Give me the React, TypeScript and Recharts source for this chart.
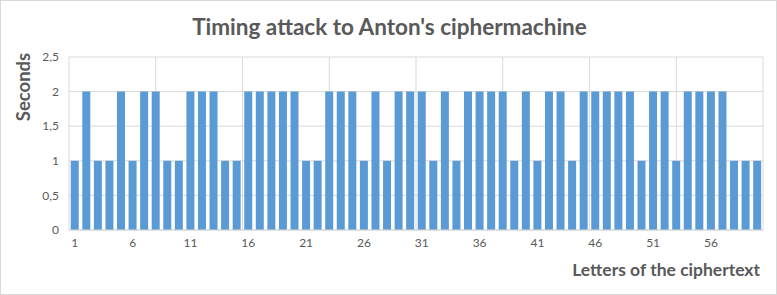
import { BarChart, Bar, XAxis, YAxis, CartesianGrid } from 'recharts';

// time in seconds for each letter of the ciphertext
const letters: number[] = Array.from({ length: 60 }, (_, i) => i + 1);
const seconds: number[] = [
  1, 2, 1, 1, 2, 1, 2, 2, 1, 1,
  2, 2, 2, 1, 1, 2, 2, 2, 2, 2,
  1, 1, 2, 2, 2, 1, 2, 1, 2, 2,
  2, 1, 2, 1, 2, 2, 2, 2, 1, 2,
  1, 2, 2, 1, 2, 2, 2, 2, 2, 1,
  2, 2, 1, 2, 2, 2, 2, 1, 1, 1,
];
const yTicks: number[] = [0, 0.5, 1, 1.5, 2, 2.5];

const data = letters.map((letter, i) => ({ letter, seconds: seconds[i] }));

const FONT = 'Lato, "Open Sans", sans-serif';
const TEXT = '#595959';
const GRID = '#d9d9d9';

const fmtY = (v: number) => String(v).replace('.', ',');

export default function App() {
  return (
    <div
      style={{
        position: 'relative',
        width: 777,
        height: 295,
        boxSizing: 'border-box',
        border: `1px solid ${GRID}`,
        background: '#fff',
        fontFamily: FONT,
      }}
    >
      <style>{'body{margin:0}'}</style>
      <div
        style={{
          position: 'absolute',
          top: 12,
          left: 0,
          width: 777,
          textAlign: 'center',
          fontSize: 22.5,
          fontWeight: 700,
          color: TEXT,
        }}
      >
        Timing attack to Anton's ciphermachine
      </div>
      <div
        style={{
          position: 'absolute',
          left: 22,
          top: 86,
          transform: 'translate(-50%, -50%) rotate(-90deg)',
          fontSize: 18.5,
          fontWeight: 700,
          color: TEXT,
          whiteSpace: 'nowrap',
        }}
      >
        Seconds
      </div>
      <div
        style={{
          position: 'absolute',
          right: 16,
          top: 258,
          fontSize: 17.5,
          fontWeight: 700,
          color: TEXT,
          whiteSpace: 'nowrap',
        }}
      >
        Letters of the ciphertext
      </div>
      <div style={{ position: 'absolute', left: 0, top: 0 }}>
        <BarChart
          width={775}
          height={293}
          data={data}
          margin={{ top: 56, right: 13, left: 0, bottom: 44 }}
          barCategoryGap="15%"
        >
          <CartesianGrid
            stroke={GRID}
            verticalCoordinatesGenerator={({ offset }: any) =>
              [0, 1, 2, 3, 4, 5, 6, 7, 8].map((i) => offset.left + (offset.width * i) / 8)
            }
          />
          <XAxis
            dataKey="letter"
            interval={4}
            height={20}
            axisLine={{ stroke: GRID }}
            tickLine={false}
            tickSize={0}
            tickMargin={8}
            tick={{ fill: TEXT, fontSize: 12, fontFamily: FONT }}
          />
          <YAxis
            domain={[0, 2.5]}
            ticks={yTicks}
            tickFormatter={fmtY}
            width={68}
            axisLine={false}
            tickLine={false}
            tickSize={0}
            tickMargin={10}
            tick={{ fill: TEXT, fontSize: 12, fontFamily: FONT }}
          />
          <Bar dataKey="seconds" fill="#5b9bd5" isAnimationActive={false} />
        </BarChart>
      </div>
    </div>
  );
}
